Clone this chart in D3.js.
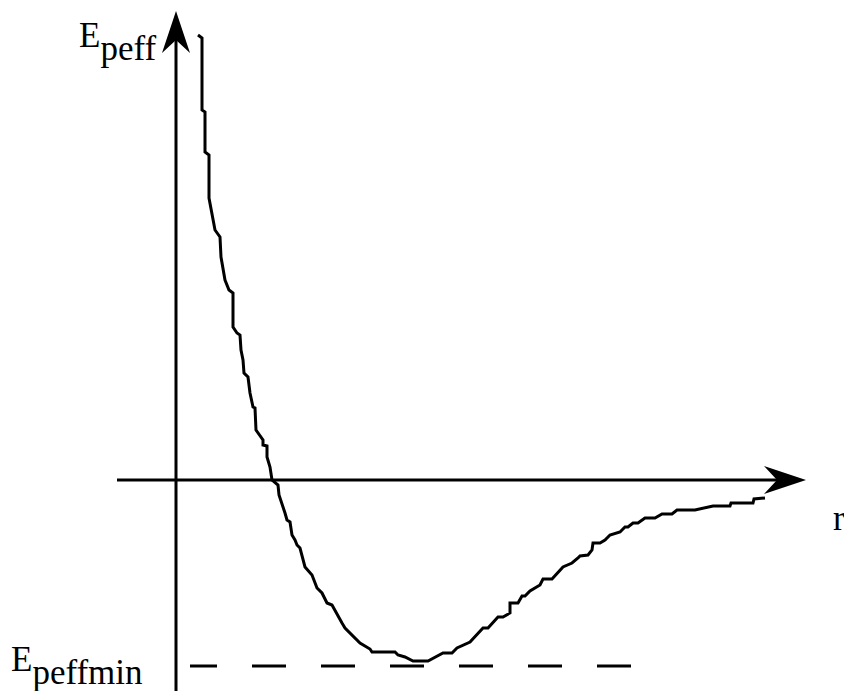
<!DOCTYPE html>
<html>
<head>
<meta charset="utf-8">
<script src="https://cdn.jsdelivr.net/npm/d3@7"></script>
<style>
  html, body { margin: 0; padding: 0; background: #fff; }
  svg { display: block; }
</style>
</head>
<body>
<svg id="chart" width="844" height="691"></svg>
<script>
// Effective potential curve (r, E in arbitrary units)
var rValues = [2.2, 2.6, 2.6, 2.9, 2.9, 3.3, 3.3, 3.9, 4.4, 4.5, 4.9, 5.3, 5.7, 5.7, 6.1, 6.4,
    6.5, 6.7, 6.8, 7.2, 7.4, 7.7, 7.9, 8.0, 8.7, 8.7, 9.1, 9.1, 9.4, 9.6, 10.2, 10.3,
    10.9, 11.1, 11.4, 11.6, 11.9, 12.1, 12.4, 12.9, 13.6, 14.1, 14.6, 15.1, 15.6, 16.6,
    16.9, 18.4, 19.4, 19.6, 21.9, 22.2, 22.9, 23.7, 25.2, 26.7, 27.6, 28.1, 29.4, 30.7,
    31.2, 32.2, 32.7, 33.4, 33.4, 34.2, 34.6, 34.9, 35.4, 36.4, 36.7, 37.6, 38.7, 39.6,
    40.2, 40.4, 41.2, 41.6, 41.7, 42.4, 42.9, 43.4, 44.4, 44.9, 45.2, 45.7, 46.2, 46.9,
    47.9, 48.6, 49.6, 50.1, 51.9, 53.7, 55.4, 55.5, 57.7, 57.8, 58.9];
var eValues = [44.5, 44.2, 37.0, 36.8, 32.8, 32.5, 28.2, 25.0, 24.3, 22.3, 20.0, 19.0, 18.7, 15.3, 14.7, 14.5,
    13.0, 12.0, 10.7, 10.3, 8.7, 7.3, 7.2, 5.0, 4.0, 3.5, 3.4, 2.3, 1.3, 0.0, -0.5, -1.5,
    -3.3, -4.0, -4.2, -5.5, -6.0, -6.5, -6.8, -8.7, -9.5, -10.8, -11.3, -12.3, -12.5, -14.3,
    -14.8, -16.3, -16.9, -17.2, -17.2, -17.5, -17.7, -18.1, -18.1, -17.3, -17.3, -16.8, -16.2, -14.8,
    -14.8, -13.7, -13.7, -13.3, -12.3, -12.3, -11.6, -11.6, -11.1, -10.5, -9.9, -9.9, -8.7, -8.3,
    -7.8, -7.6, -7.5, -7.0, -6.3, -6.3, -6.0, -5.5, -5.2, -4.7, -4.7, -4.3, -4.3, -3.8,
    -3.8, -3.4, -3.4, -3.0, -3.0, -2.6, -2.6, -2.3, -2.3, -1.9, -1.8];

// Axis extents and the minimum-energy reference line
var rAxisRange = [-5.9, 63.0];
var eAxisRange = [-21.1, 46.9];
var eMinLevel = -18.6;
var eMinLineRange = [1.4, 45.7];

// Labels
var yLabel = ["E", "peff"];
var minLabel = ["E", "peffmin"];
var xLabel = "r";

var serif = "'Liberation Serif', 'Times New Roman', Times, 'DejaVu Serif', serif";

var svg = d3.select("#chart");

var x = d3.scaleLinear().domain([0, 63]).range([176, 806]);
var y = d3.scaleLinear().domain([0, 46.9]).range([480, 11]);

var points = rValues.map(function (r, i) { return [r, eValues[i]]; });

// Dashed E_peffmin line
svg.append("line")
    .attr("x1", x(eMinLineRange[0]))
    .attr("x2", x(eMinLineRange[1]))
    .attr("y1", y(eMinLevel))
    .attr("y2", y(eMinLevel))
    .attr("stroke", "#000")
    .attr("stroke-width", 3)
    .attr("stroke-dasharray", "34,35")
    .attr("stroke-dashoffset", 7);

// Axes
svg.append("line")
    .attr("x1", x(rAxisRange[0])).attr("x2", x(rAxisRange[1]) - 20)
    .attr("y1", y(0)).attr("y2", y(0))
    .attr("stroke", "#000").attr("stroke-width", 3);

svg.append("line")
    .attr("x1", x(0)).attr("x2", x(0))
    .attr("y1", y(eAxisRange[0])).attr("y2", y(eAxisRange[1]) + 20)
    .attr("stroke", "#000").attr("stroke-width", 3);

// Arrowheads (drawn pointing right, then rotated)
var arrowPath = "M0,0 L-42,-14 L-29,0 L-42,14 Z";

svg.append("path")
    .attr("d", arrowPath)
    .attr("transform", "translate(" + x(rAxisRange[1]) + "," + y(0) + ")")
    .attr("fill", "#000");

svg.append("path")
    .attr("d", arrowPath)
    .attr("transform", "translate(" + x(0) + "," + y(eAxisRange[1]) + ") rotate(-90)")
    .attr("fill", "#000");

// The curve
var line = d3.line()
    .x(function (d) { return x(d[0]); })
    .y(function (d) { return y(d[1]); });

svg.append("path")
    .datum(points)
    .attr("d", line)
    .attr("fill", "none")
    .attr("stroke", "#000")
    .attr("stroke-width", 3)
    .attr("stroke-linejoin", "miter");

// Labels
function subLabel(px, py, parts) {
    var t = svg.append("text")
        .attr("x", px)
        .attr("y", py)
        .attr("font-family", serif)
        .attr("font-size", "35px");
    t.append("tspan").text(parts[0]);
    t.append("tspan").attr("dy", 13).text(parts[1]);
}

subLabel(79, 47, yLabel);
subLabel(11, 671, minLabel);

svg.append("text")
    .attr("x", 833)
    .attr("y", 530)
    .attr("font-family", serif)
    .attr("font-size", "35px")
    .text(xLabel);
</script>
</body>
</html>
